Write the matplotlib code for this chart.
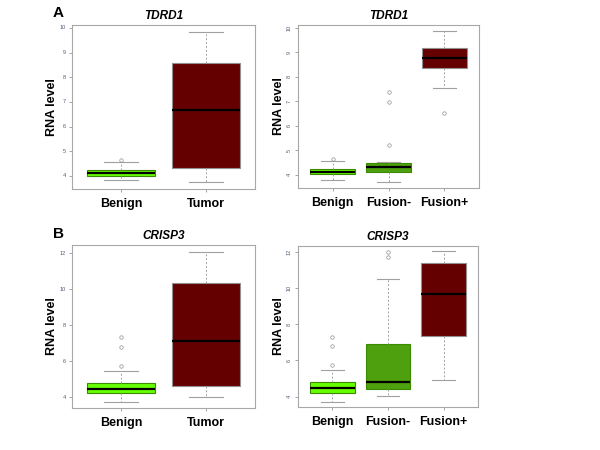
import matplotlib
matplotlib.use('Agg')
from matplotlib import pyplot as plt

plt.rcParams['font.family'] = ['Liberation Sans', 'DejaVu Sans']

# colours per group
GREEN = '#66ff00'
DKGREEN = '#4ea00e'
DKRED = '#650000'

# TDRD1, benign vs tumor
tdrd1_groups = ['Benign', 'Tumor']
tdrd1_whislo = [3.82, 3.74]
tdrd1_q1 = [4.01, 4.31]
tdrd1_med = [4.13, 6.69]
tdrd1_q3 = [4.24, 8.57]
tdrd1_whishi = [4.58, 9.85]
tdrd1_fliers = [[4.65], []]

# TDRD1, by fusion status
tdrd1f_groups = ['Benign', 'Fusion-', 'Fusion+']
tdrd1f_whislo = [3.78, 3.70, 7.54]
tdrd1f_q1 = [4.01, 4.09, 8.38]
tdrd1f_med = [4.12, 4.31, 8.78]
tdrd1f_q3 = [4.23, 4.49, 9.17]
tdrd1f_whishi = [4.56, 4.52, 9.86]
tdrd1f_fliers = [[4.65], [7.36, 6.97, 5.22], [6.5]]

# CRISP3, benign vs tumor
crisp3_groups = ['Benign', 'Tumor']
crisp3_whislo = [3.70, 3.98]
crisp3_q1 = [4.21, 4.63]
crisp3_med = [4.43, 7.10]
crisp3_q3 = [4.76, 10.33]
crisp3_whishi = [5.46, 12.09]
crisp3_fliers = [[7.32, 6.80, 5.73], []]

# CRISP3, by fusion status
crisp3f_groups = ['Benign', 'Fusion-', 'Fusion+']
crisp3f_whislo = [3.72, 4.04, 4.92]
crisp3f_q1 = [4.20, 4.41, 7.32]
crisp3f_med = [4.48, 4.83, 9.66]
crisp3f_q3 = [4.80, 6.91, 11.39]
crisp3f_whishi = [5.49, 10.49, 12.03]
crisp3f_fliers = [[7.30, 6.78, 5.73], [11.99, 11.72], []]


def make_stats(groups, lo, q1, med, q3, hi, fl):
    out = []
    for i in range(len(groups)):
        out.append(dict(label=groups[i], whislo=lo[i], q1=q1[i], med=med[i],
                        q3=q3[i], whishi=hi[i], fliers=fl[i]))
    return out


def draw_panel(rect, title, stats, colors, ylim, ticks, rotate):
    ax = fig.add_axes(rect)
    n = len(stats)
    bp = ax.bxp(stats, positions=range(1, n + 1), widths=0.8,
                patch_artist=True, showfliers=True,
                boxprops=dict(edgecolor='#909090', linewidth=0.8),
                medianprops=dict(color='black', linewidth=1.6),
                whiskerprops=dict(color='#a0a0a0', linestyle=(0, (2, 2)), linewidth=0.7),
                capprops=dict(color='#a0a0a0', linewidth=0.8),
                flierprops=dict(marker='o', markersize=2.5, markerfacecolor='none',
                                markeredgecolor='#909090', markeredgewidth=0.5))
    for patch, c in zip(bp['boxes'], colors):
        patch.set_facecolor(c)
        if c != DKRED:
            patch.set_edgecolor('#3c8a00')
    ax.set_xlim(0.5 - 0.04 * n, n + 0.5 + 0.04 * n)
    ax.set_ylim(*ylim)
    ax.set_yticks(ticks)
    ax.set_yticklabels([str(t) for t in ticks], fontsize=4, color='#4a5a7a',
                       rotation=90 if rotate else 0, va='center')
    ax.set_xticks(range(1, n + 1))
    ax.set_xticklabels([s['label'] for s in stats], fontsize=9, fontweight='bold')
    ax.tick_params(axis='y', length=2.5, width=0.5, color='#808080', pad=2)
    ax.tick_params(axis='x', length=2.5, width=0.5, color='#808080', pad=4)
    for sp in ax.spines.values():
        sp.set_color('#a8a8a8')
        sp.set_linewidth(0.8)
    ax.set_title(title, fontsize=8.5, fontweight='bold', fontstyle='italic', pad=4)
    ax.set_ylabel('RNA level', fontsize=9, fontweight='bold', labelpad=1)
    return ax


fig = plt.figure(figsize=(6, 4.5), dpi=100)

W, H = 600.0, 450.0


def rect(x0, y0, x1, y1):
    return [x0 / W, 1 - y1 / H, (x1 - x0) / W, (y1 - y0) / H]


draw_panel(rect(72, 25, 255, 189), 'TDRD1',
           make_stats(tdrd1_groups, tdrd1_whislo, tdrd1_q1, tdrd1_med, tdrd1_q3, tdrd1_whishi, tdrd1_fliers),
           [GREEN, DKRED], (3.47, 10.12), [4, 5, 6, 7, 8, 9, 10], False)
draw_panel(rect(298, 25, 479, 188), 'TDRD1',
           make_stats(tdrd1f_groups, tdrd1f_whislo, tdrd1f_q1, tdrd1f_med, tdrd1f_q3, tdrd1f_whishi, tdrd1f_fliers),
           [GREEN, DKGREEN, DKRED], (3.45, 10.12), [4, 5, 6, 7, 8, 9, 10], True)
draw_panel(rect(72, 245, 255, 408), 'CRISP3',
           make_stats(crisp3_groups, crisp3_whislo, crisp3_q1, crisp3_med, crisp3_q3, crisp3_whishi, crisp3_fliers),
           [GREEN, DKRED], (3.39, 12.46), [4, 6, 8, 10, 12], False)
draw_panel(rect(298, 246, 478, 407), 'CRISP3',
           make_stats(crisp3f_groups, crisp3f_whislo, crisp3f_q1, crisp3f_med, crisp3f_q3, crisp3f_whishi, crisp3f_fliers),
           [GREEN, DKGREEN, DKRED], (3.43, 12.31), [4, 6, 8, 10, 12], True)

fig.text(53 / W, 1 - 13 / H, 'A', fontsize=11, fontweight='bold', va='center')
fig.text(53 / W, 1 - 234 / H, 'B', fontsize=11, fontweight='bold', va='center')

fig.savefig('out.png', dpi=100)
